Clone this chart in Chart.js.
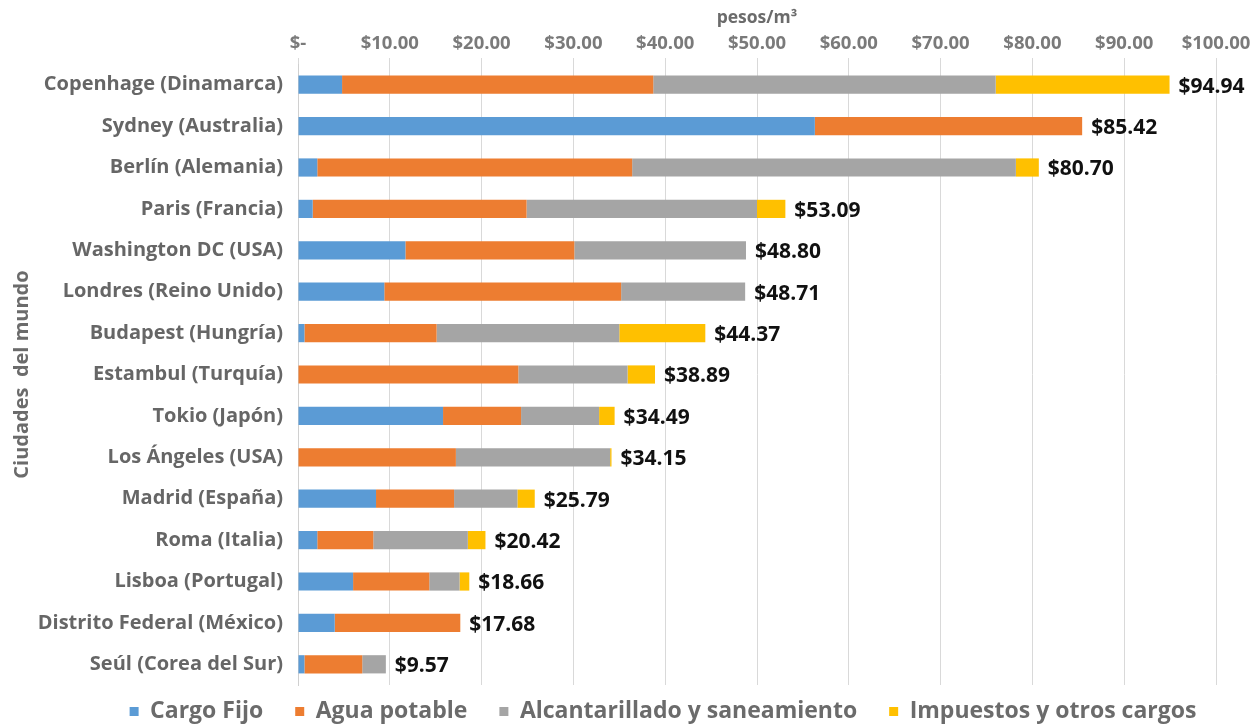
<!DOCTYPE html>
<html>
<head>
<meta charset="utf-8">
<script src="https://cdn.jsdelivr.net/npm/chart.js@4/dist/chart.umd.min.js"></script>
<style>
html,body{margin:0;padding:0;background:#fff;}
#c{display:block;}
</style>
</head>
<body>
<canvas id="c" width="1254" height="725"></canvas>
<script>
const categories = ["Copenhage (Dinamarca)","Sydney (Australia)","Berlín (Alemania)","Paris (Francia)","Washington DC (USA)","Londres (Reino Unido)","Budapest (Hungría)","Estambul (Turquía)","Tokio (Japón)","Los Ángeles (USA)","Madrid (España)","Roma (Italia)","Lisboa (Portugal)","Distrito Federal (México)","Seúl (Corea del Sur)"];
const cargoFijo = [4.8, 56.3, 2.1, 1.6, 11.7, 9.4, 0.7, 0, 15.8, 0, 8.5, 2.1, 6.0, 4.0, 0.7];
const aguaPotable = [33.9, 29.12, 34.3, 23.3, 18.4, 25.8, 14.4, 24.0, 8.5, 17.2, 8.5, 6.1, 8.3, 13.68, 6.3];
const alcantarillado = [37.3, 0, 41.8, 25.1, 18.7, 13.51, 19.9, 11.9, 8.5, 16.8, 6.9, 10.3, 3.3, 0, 2.57];
const impuestos = [18.94, 0, 2.5, 3.09, 0, 0, 9.37, 2.99, 1.69, 0.15, 1.89, 1.92, 1.06, 0, 0];
const totals = [94.94, 85.42, 80.70, 53.09, 48.80, 48.71, 44.37, 38.89, 34.49, 34.15, 25.79, 20.42, 18.66, 17.68, 9.57];
const xTicks = [0,10,20,30,40,50,60,70,80,90,100];

const FONT = "'Open Sans', 'Noto Sans', sans-serif";

const totalsPlugin = {
  id: 'totals',
  afterDatasetsDraw(chart) {
    const ctx = chart.ctx;
    const xs = chart.scales.x, ys = chart.scales.y;
    ctx.save();
    ctx.font = "bold 21px " + FONT;
    ctx.fillStyle = "#111";
    ctx.textAlign = "left";
    ctx.textBaseline = "middle";
    totals.forEach((t, i) => {
      const x = xs.getPixelForValue(t) + 9;
      const y = ys.getPixelForValue(i) + 2;
      ctx.fillText("$" + t.toFixed(2), x, y);
    });
    ctx.restore();
  }
};

const legendShift = {
  id: 'legendShift',
  afterLayout(chart) {
    const lg = chart.legend;
    if (!lg) return;
    const dy = -17, dx = 51;
    lg.top += dy;
    lg.bottom = chart.height;
    lg.height = lg.bottom - lg.top;
    lg.left += dx; lg.right += dx;
  }
};

const common = {barPercentage: 0.88, categoryPercentage: 0.5, borderWidth: 0};
new Chart(document.getElementById('c'), {
  type: 'bar',
  data: {
    labels: categories,
    datasets: [
      Object.assign({label: 'Cargo Fijo', data: cargoFijo, backgroundColor: '#5B9BD5'}, common),
      Object.assign({label: 'Agua potable', data: aguaPotable, backgroundColor: '#ED7D31'}, common),
      Object.assign({label: 'Alcantarillado y saneamiento', data: alcantarillado, backgroundColor: '#A5A5A5'}, common),
      Object.assign({label: 'Impuestos y otros cargos', data: impuestos, backgroundColor: '#FFC000'}, common)
    ]
  },
  options: {
    indexAxis: 'y',
    responsive: false,
    animation: false,
    layout: {padding: {left: 8, right: 38, top: 4, bottom: 0}},
    plugins: {
      legend: {
        position: 'bottom',
        maxHeight: 40,
        labels: {
          font: {family: FONT, size: 23, weight: 'bold'},
          color: '#6b6b6b',
          boxWidth: 9, boxHeight: 9,
          padding: 32
        }
      },
      tooltip: {enabled: false}
    },
    scales: {
      x: {
        position: 'top',
        stacked: true,
        min: 0, max: 100,
        afterBuildTicks(scale) { scale.ticks = xTicks.map(v => ({value: v})); },
        ticks: {
          font: {family: FONT, size: 18.5, weight: 'bold'},
          color: '#7a7a7a',
          padding: 3,
          maxRotation: 0,
          callback: v => v === 0 ? '$-' : '$' + v.toFixed(2)
        },
        grid: {color: '#d9d9d9', lineWidth: 1, tickLength: 6, drawTicks: true},
        border: {display: false},
        title: {display: true, text: 'pesos/m³', font: {family: FONT, size: 17.5, weight: 'bold'}, color: '#6b6b6b', padding: {top: 4, bottom: 0}},
        afterFit(scale) { scale.height = 60; }
      },
      y: {
        stacked: true,
        ticks: {
          font: {family: FONT, size: 20, weight: 'bold'},
          color: '#666666',
          padding: 7
        },
        grid: {display: false},
        border: {display: true, color: '#d0d0d0'},
        title: {display: true, text: 'Ciudades  del mundo', font: {family: FONT, size: 20, weight: 'bold'}, color: '#6b6b6b', padding: {top: 2, bottom: 4}},
        afterFit(scale) { scale.width = 290; }
      }
    }
  },
  plugins: [totalsPlugin, legendShift]
});
</script>
</body>
</html>
